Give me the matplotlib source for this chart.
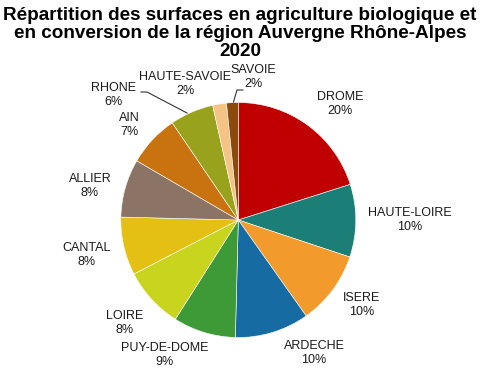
import matplotlib
matplotlib.use("Agg")
import matplotlib.pyplot as plt

# ---- data ----
departements = ["DROME", "HAUTE-LOIRE", "ISERE", "ARDECHE", "PUY-DE-DOME", "LOIRE",
                "CANTAL", "ALLIER", "AIN", "RHONE", "HAUTE-SAVOIE", "SAVOIE"]
parts = [20.1, 10.0, 10.1, 10.2, 8.6, 8.4, 8.0, 8.0, 7.1, 6.0, 1.9, 1.6]
couleurs = ["#C00000", "#1B7F78", "#F29A2C", "#166BA3", "#3E9A37", "#C8D41D",
            "#E5C014", "#8B7366", "#C8730F", "#98A21C", "#F5C385", "#8B4A0C"]
titre = "Répartition des surfaces en agriculture biologique et\nen conversion de la région Auvergne Rhône-Alpes\n2020"

# ---- layout (pixel positions of label centres in the 480x370 image) ----
W, H = 480, 370
cx, cy, R = 238.3, 220.0, 117.5
label_px = [(340, 104), (410, 220), (362, 305), (314, 353), (165, 355), (125, 323),
            (87, 255), (90, 186), (129, 125), (113, 95), (185, 84), (253, 77)]

plt.rcParams['font.family'] = ['Liberation Sans', 'DejaVu Sans']
fig = plt.figure(figsize=(W / 100, H / 100), dpi=100)
ax = fig.add_axes([(cx - R) / W, (H - cy - R) / H, 2 * R / W, 2 * R / H])
ax.pie(parts, colors=couleurs, startangle=90, counterclock=False, radius=1,
       wedgeprops=dict(edgecolor="white", linewidth=0.4))
ax.set_xlim(-1, 1)
ax.set_ylim(-1, 1)
ax.set_aspect("equal")
ax.axis("off")

def px2d(px, py):
    return (px - cx) / R, (cy - py) / R

tot = sum(parts)
for name, v, (px, py) in zip(departements, parts, label_px):
    x, y = px2d(px, py)
    ax.text(x, y, f"{name}\n{round(v / tot * 100)}%", ha="center", va="center",
            fontsize=9, color="#1a1a1a", linespacing=1.15, clip_on=False)

# leader lines (RHONE and SAVOIE)
for pts in ([(141, 92), (147, 92), (187, 113)], [(243, 90), (237, 90), (233.5, 102)]):
    xs, ys = zip(*[px2d(a, b) for a, b in pts])
    ax.plot(xs, ys, color="#333333", lw=0.8, clip_on=False)

fig.text(0.5, 1 - 33.5 / H, titre, ha="center", va="center", fontsize=13.6,
         fontweight="bold", linespacing=1.04)

fig.savefig("out.png", dpi=100)
